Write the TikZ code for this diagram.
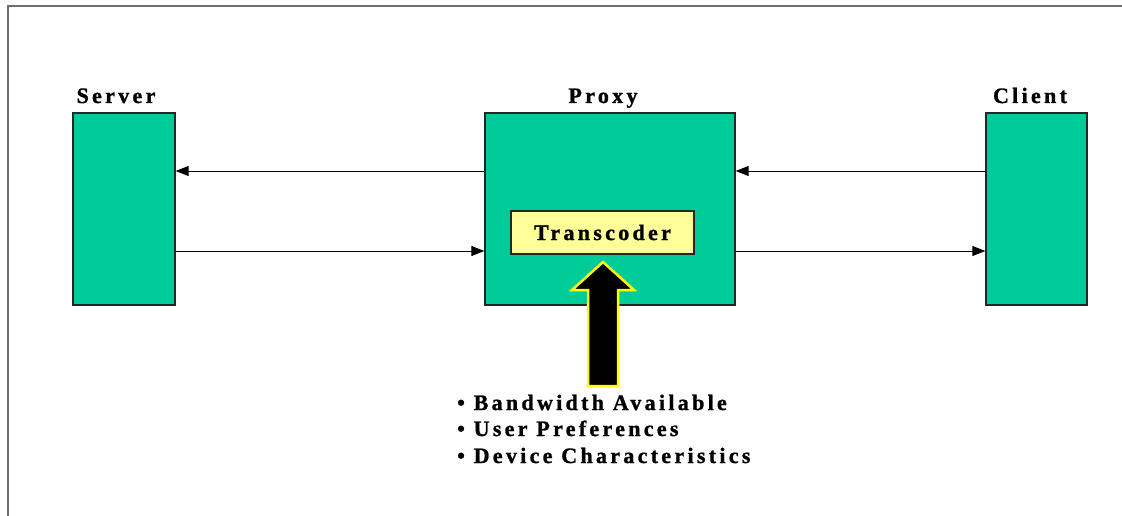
\documentclass[tikz,border=0pt]{standalone}
\usepackage{fontspec}
\setmainfont{Liberation Serif}[LetterSpace=15,BoldFeatures={FakeBold=1.2}]
\usetikzlibrary{arrows.meta}
\definecolor{boxgreen}{RGB}{0,204,153}
\definecolor{paleyellow}{RGB}{255,255,153}
\definecolor{brightyellow}{RGB}{255,255,0}
\definecolor{framegray}{RGB}{110,110,110}
\begin{document}
\begin{tikzpicture}[x=1pt,y=-1pt,
  unit/.style={draw=black!85,line width=1.3pt,fill=boxgreen,inner sep=0pt},
  tagtext/.style={font=\fontsize{22}{26}\selectfont\bfseries,inner sep=0pt,anchor=base},
  bullettext/.style={font=\fontsize{22}{26}\selectfont\bfseries,inner sep=0pt,anchor=base west},
  link/.style={line width=0.9pt,-{Triangle[length=13pt,width=10pt]}}]
  \useasboundingbox (0,0) rectangle (1122,516);
  % outer frame (top and left edges only)
  \draw[framegray,line width=2pt] (8,516) -- (8,6) -- (1122,6);

  % the three parties
  \node[unit,minimum width=102pt,minimum height=192pt] (server) at (124,209) {};
  \node[unit,minimum width=250pt,minimum height=192pt] (proxy) at (610,209) {};
  \node[unit,minimum width=101pt,minimum height=192pt] (client) at (1036.5,209) {};
  \node[tagtext] (serverlbl) at (116,103) {Server};
  \node[tagtext] (proxylbl) at (603,103) {Proxy};
  \node[tagtext] (clientlbl) at (1030,103) {Client};

  % transcoder inside the proxy
  \node[draw=black!85,line width=1.3pt,fill=paleyellow,minimum width=183pt,minimum height=43pt,
        inner sep=0pt,font=\fontsize{22}{26}\selectfont\bfseries] (trans) at (602.5,232.5) {Transcoder};

  % request path (upper) and response path (lower)
  \draw[link] (proxy.west |- 0,171) -- (server.east |- 0,171);
  \draw[link] (client.west |- 0,171) -- (proxy.east |- 0,171);
  \draw[link] (server.east |- 0,251) -- (proxy.west |- 0,251);
  \draw[link] (proxy.east |- 0,251) -- (client.west |- 0,251);

  % inputs feeding the transcoder
  \node[bullettext] (bw) at (457,410) {\textbullet\ Bandwidth Available};
  \node[bullettext] (up) at (457,436) {\textbullet\ User Preferences};
  \node[bullettext] (dc) at (457,463) {\textbullet\ Device Characteristics};

  % big upward arrow into the transcoder
  \coordinate (tip) at (603,262);
  \draw[brightyellow,line width=2.5pt,fill=black,line join=miter]
    (tip) -- (634,290) -- (618,290) -- (618,386) -- (588,386) -- (588,290) -- (572,290) -- cycle;
\end{tikzpicture}
\end{document}
